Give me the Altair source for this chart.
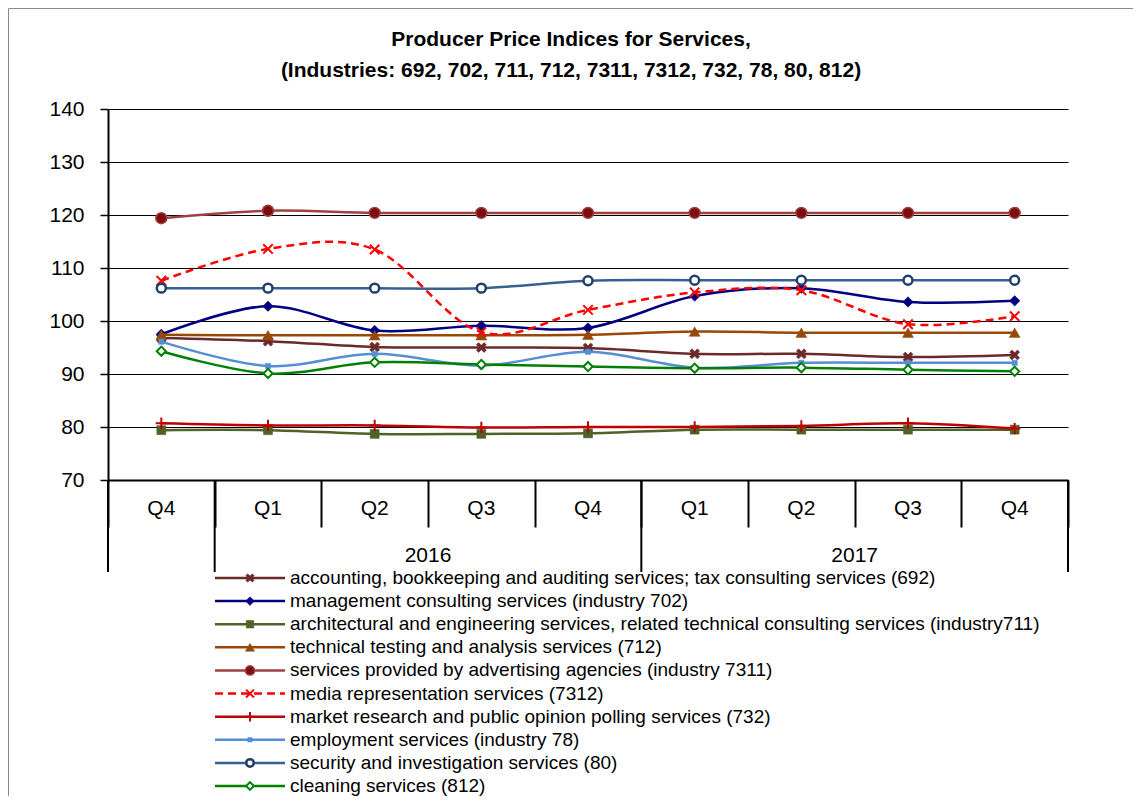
import altair as alt
import pandas as pd

# ---------------- data ----------------
quarters = ["Q4", "Q1", "Q2", "Q3", "Q4", "Q1", "Q2", "Q3", "Q4"]
quarter_years = ["", "2016", "2016", "2016", "2016", "2017", "2017", "2017", "2017"]

series_codes = ["692", "702", "711", "712", "7311", "7312", "732", "78", "80", "812"]
series_labels = [
    "accounting, bookkeeping and auditing services; tax consulting services (692)",
    "management consulting services (industry 702)",
    "architectural and engineering services, related technical consulting services (industry711)",
    "technical testing and analysis services (712)",
    "services provided by advertising agencies (industry 7311)",
    "media representation services (7312)",
    "market research and public opinion polling services (732)",
    "employment services (industry 78)",
    "security and investigation services (80)",
    "cleaning services (812)",
]

v692 = [96.8, 96.2, 95.1, 95.0, 94.9, 93.8, 93.8, 93.2, 93.6]
v702 = [97.5, 102.8, 98.2, 99.1, 98.7, 104.7, 106.2, 103.6, 103.8]
v711 = [79.4, 79.4, 78.7, 78.7, 78.8, 79.5, 79.5, 79.5, 79.5]
v712 = [97.4, 97.3, 97.3, 97.3, 97.4, 98.0, 97.8, 97.8, 97.8]
v7311 = [119.4, 120.8, 120.4, 120.4, 120.4, 120.4, 120.4, 120.4, 120.4]
v7312 = [107.6, 113.6, 113.5, 97.9, 102.1, 105.4, 105.8, 99.4, 100.9]
v732 = [80.7, 80.3, 80.3, 79.9, 80.0, 80.0, 80.2, 80.7, 79.7]
v78 = [96.1, 91.5, 93.8, 91.6, 94.2, 91.2, 92.1, 92.1, 92.1]
v80 = [106.2, 106.2, 106.2, 106.2, 107.6, 107.7, 107.7, 107.7, 107.7]
v812 = [94.3, 90.1, 92.2, 91.8, 91.4, 91.1, 91.2, 90.8, 90.5]
series_values = [v692, v702, v711, v712, v7311, v7312, v732, v78, v80, v812]

title_lines = [
    "Producer Price Indices for Services,",
    "(Industries: 692, 702, 711, 712, 7311, 7312, 732, 78, 80, 812)",
]

# ---------------- styles ----------------
BOLD_X = "M-1,-0.55L-0.55,-1L0,-0.45L0.55,-1L1,-0.55L0.45,0L1,0.55L0.55,1L0,0.45L-0.55,1L-1,0.55L-0.45,0Z"
THIN_X = "M-1,-1L1,1M-1,1L1,-1"
PLUS = "M-1,0L1,0M0,-1L0,1"

styles = {
    "692": dict(line="#6B2A2A", dash=None, shape=BOLD_X, fill="#6B2A2A", stroke="#6B2A2A", size=100, sw=0.5),
    "702": dict(line="#000080", dash=None, shape="diamond", fill="#000080", stroke="#000080", size=110, sw=0.5),
    "711": dict(line="#4F6228", dash=None, shape="square", fill="#4F6228", stroke="#4F6228", size=81, sw=0.5),
    "712": dict(line="#984807", dash=None, shape="triangle-up", fill="#984807", stroke="#984807", size=120, sw=0.5),
    "7311": dict(line="#A04040", dash=None, shape="circle", fill="#7B0E0E", stroke="#A04040", size=120, sw=1.5),
    "7312": dict(line="#FF0000", dash=[8, 5], shape=THIN_X, fill="transparent", stroke="#FF0000", size=90, sw=2),
    "732": dict(line="#C00000", dash=None, shape=PLUS, fill="transparent", stroke="#C00000", size=130, sw=2),
    "78": dict(line="#558ED5", dash=None, shape="square", fill="#558ED5", stroke="#558ED5", size=28, sw=0.5),
    "80": dict(line="#376092", dash=None, shape="circle", fill="white", stroke="#1F3F6A", size=80, sw=2.5),
    "812": dict(line="#008000", dash=None, shape="diamond", fill="white", stroke="#008000", size=85, sw=2),
}

FONT = "Liberation Sans"
W, H = 960, 371

rows = []
for code, vals in zip(series_codes, series_values):
    for i, v in enumerate(vals):
        rows.append({"series": code, "i": i, "value": v})
df = pd.DataFrame(rows)

qdf = pd.DataFrame({"i": list(range(len(quarters))), "q": quarters, "year": quarter_years})

# year boundaries derived from quarter list
bounds = [-0.5]
for k in range(1, len(quarter_years)):
    if quarter_years[k] != quarter_years[k - 1]:
        bounds.append(k - 0.5)
bounds.append(len(quarters) - 0.5)
bdf = pd.DataFrame({"b": bounds})

legend_df = pd.DataFrame({"series": series_codes, "label": series_labels})

# ---------------- scales / axes ----------------
xscale = alt.Scale(domain=[-0.5, len(quarters) - 0.5], nice=False, zero=False)
yscale = alt.Scale(domain=[70, 140], nice=False, zero=False)

x_axis = alt.Axis(
    values=[k - 0.5 for k in range(len(quarters) + 1)],
    labels=False, ticks=True, tickSize=47, tickWidth=2, tickColor="black",
    domain=True, domainColor="black", domainWidth=2, grid=False, title=None,
)
y_axis = alt.Axis(
    values=list(range(70, 141, 10)), grid=True, gridColor="black", gridWidth=1,
    domain=True, domainColor="black", domainWidth=2,
    ticks=True, tickSize=8, tickWidth=1.5, tickColor="black",
    labelFont=FONT, labelFontSize=21, labelColor="black", labelPadding=16, title=None,
)


def X(field):
    return alt.X(field, scale=xscale, axis=x_axis)


def Y(field):
    return alt.Y(field, scale=yscale, axis=y_axis)


base = alt.Chart(df)
layers = []
for code in series_codes:
    st = styles[code]
    lk = dict(interpolate="cardinal", tension=0, strokeWidth=2.5, color=st["line"])
    if st["dash"]:
        lk["strokeDash"] = st["dash"]
    layers.append(
        base.transform_filter(alt.datum.series == code)
        .mark_line(**lk)
        .encode(x=X("i:Q"), y=Y("value:Q"))
    )
    layers.append(
        base.transform_filter(alt.datum.series == code)
        .mark_point(shape=st["shape"], fill=st["fill"], stroke=st["stroke"],
                    size=st["size"], strokeWidth=st["sw"], opacity=1, filled=False)
        .encode(x=X("i:Q"), y=Y("value:Q"))
    )

# quarter labels
q_text = alt.Chart(qdf).mark_text(font=FONT, fontSize=21, color="black", baseline="middle").encode(
    x=X("i:Q"), y=alt.value(H + 29), text="q:N"
)
# year separators
y_sep = alt.Chart(bdf).mark_rule(color="black", strokeWidth=2).encode(
    x=X("b:Q"), y=alt.value(H), y2=alt.value(H + 92)
)
# year labels
y_text = (
    alt.Chart(qdf)
    .transform_filter(alt.datum.year != "")
    .transform_aggregate(c="mean(i)", groupby=["year"])
    .mark_text(font=FONT, fontSize=21, color="black", baseline="middle")
    .encode(x=X("c:Q"), y=alt.value(H + 76), text="year:N")
)

main = alt.layer(*layers, q_text, y_sep, y_text)

# ---------------- legend ----------------
ly = alt.Y("series:N", sort=series_codes, scale=alt.Scale(type="point", range=[469, 677], padding=0), axis=None)
leg_layers = []
lbase = alt.Chart(legend_df)
for code in series_codes:
    st = styles[code]
    rk = dict(strokeWidth=2.5, color=st["line"])
    if st["dash"]:
        rk["strokeDash"] = st["dash"]
    leg_layers.append(
        lbase.transform_filter(alt.datum.series == code)
        .mark_rule(**rk)
        .encode(x=alt.value(107), x2=alt.value(177), y=ly)
    )
    leg_layers.append(
        lbase.transform_filter(alt.datum.series == code)
        .mark_point(shape=st["shape"], fill=st["fill"], stroke=st["stroke"],
                    size=st["size"] * 0.7, strokeWidth=st["sw"], opacity=1, filled=False)
        .encode(x=alt.value(142), y=ly)
    )
leg_layers.append(
    lbase.mark_text(font=FONT, fontSize=19, color="black", align="left", baseline="middle")
    .encode(x=alt.value(182), y=ly, text="label:N")
)
legend = alt.layer(*leg_layers)

# ---------------- title & frame ----------------
t1 = alt.Chart(pd.DataFrame({"t": [title_lines[0]]})).mark_text(
    font=FONT, fontSize=21, fontWeight="bold", color="black", baseline="middle"
).encode(x=alt.value(463), y=alt.value(-69), text="t:N")
t2 = alt.Chart(pd.DataFrame({"t": [title_lines[1]]})).mark_text(
    font=FONT, fontSize=21, fontWeight="bold", color="black", baseline="middle"
).encode(x=alt.value(463), y=alt.value(-38), text="t:N")
frame = alt.Chart(pd.DataFrame({"f": [0]})).mark_rect(fill="transparent", stroke="#8a8a8a", strokeWidth=1).encode(
    x=alt.value(-99.5), x2=alt.value(1400), y=alt.value(-100.5), y2=alt.value(1000)
)

chart = (
    alt.layer(frame, main, legend, t1, t2)
    .resolve_scale(y="independent")
    .properties(
        width=W, height=H,
        autosize=alt.AutoSizeParams(type="none"),
        padding={"left": 100, "top": 101, "right": 65, "bottom": 316},
        background="white",
    )
    .configure_view(stroke=None)
)

chart.save("out.html", embed_options={"renderer": "svg", "actions": False})
